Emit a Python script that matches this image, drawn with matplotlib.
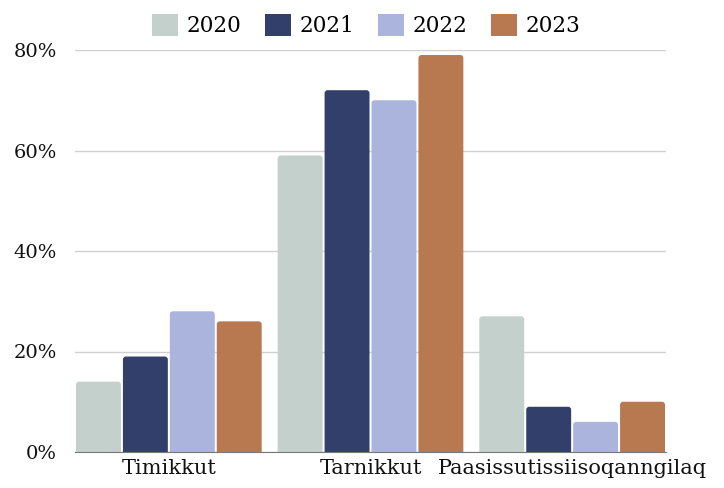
import matplotlib
matplotlib.use("Agg")
import matplotlib.pyplot as plt
from matplotlib.patches import FancyBboxPatch
import matplotlib.ticker as ticker
import numpy as np

categories = ["Timikkut", "Tarnikkut", "Paasissutissiisoqanngilaq"]
years = ["2020", "2021", "2022", "2023"]
values = {
    "2020": [14, 59, 27],
    "2021": [19, 72, 9],
    "2022": [28, 70, 6],
    "2023": [26, 79, 10],
}
colors = ["#c3d0cb", "#323f6b", "#abb4dc", "#b87951"]
yticks = [0, 20, 40, 60, 80]

plt.rcParams["font.family"] = ["DejaVu Serif"]

fig = plt.figure(figsize=(7.24, 4.88), dpi=100)
ax = fig.add_axes([75 / 724, 1 - 452 / 488, 591 / 724, 402 / 488])

x = np.arange(len(categories))
slot = 0.2327
bw = 0.2227
ax.set_xlim(-2 * slot, len(categories) - 1 + 2 * slot)
ax.set_ylim(0, 80)

# pixel scale for rounded corners
px_x = (ax.get_xlim()[1] - ax.get_xlim()[0]) / 591
px_y = 80 / 402
r = 3 * px_x
aspect = px_y / px_x

for j, yr in enumerate(years):
    off = (j - 1.5) * slot
    for i, v in enumerate(values[yr]):
        left = x[i] + off - bw / 2
        p = FancyBboxPatch((left + r, -5 + r * aspect), bw - 2 * r, v + 5 - 2 * r * aspect,
                           boxstyle=f"round,pad={r},rounding_size={r}",
                           mutation_aspect=aspect, facecolor=colors[j],
                           edgecolor="none", zorder=3, clip_on=True)
        ax.add_patch(p)
    ax.bar([0], [0], color=colors[j], label=yr)

ax.set_yticks(yticks)
ax.yaxis.set_major_formatter(ticker.FuncFormatter(lambda v, _: f"{v:.0f}%"))
ax.set_xticks(x)
ax.set_xticklabels(categories)
ax.tick_params(axis="both", length=0, labelsize=14, colors="#111111")
ax.tick_params(axis="x", labelsize=15, pad=5)
ax.tick_params(axis="y", pad=13)
ax.grid(axis="y", color="#d0d0d0", lw=1, zorder=0)
for s in ["top", "right", "left"]:
    ax.spines[s].set_visible(False)
ax.spines["bottom"].set_color("#777777")
ax.spines["bottom"].set_zorder(4)

fig.legend(loc="upper center", bbox_to_anchor=(0.506, 1.012), ncol=4, frameon=False,
           fontsize=15.5, handlelength=1.2, handleheight=1.2, handletextpad=0.4,
           columnspacing=1.1)

fig.savefig("out.png", dpi=100)
